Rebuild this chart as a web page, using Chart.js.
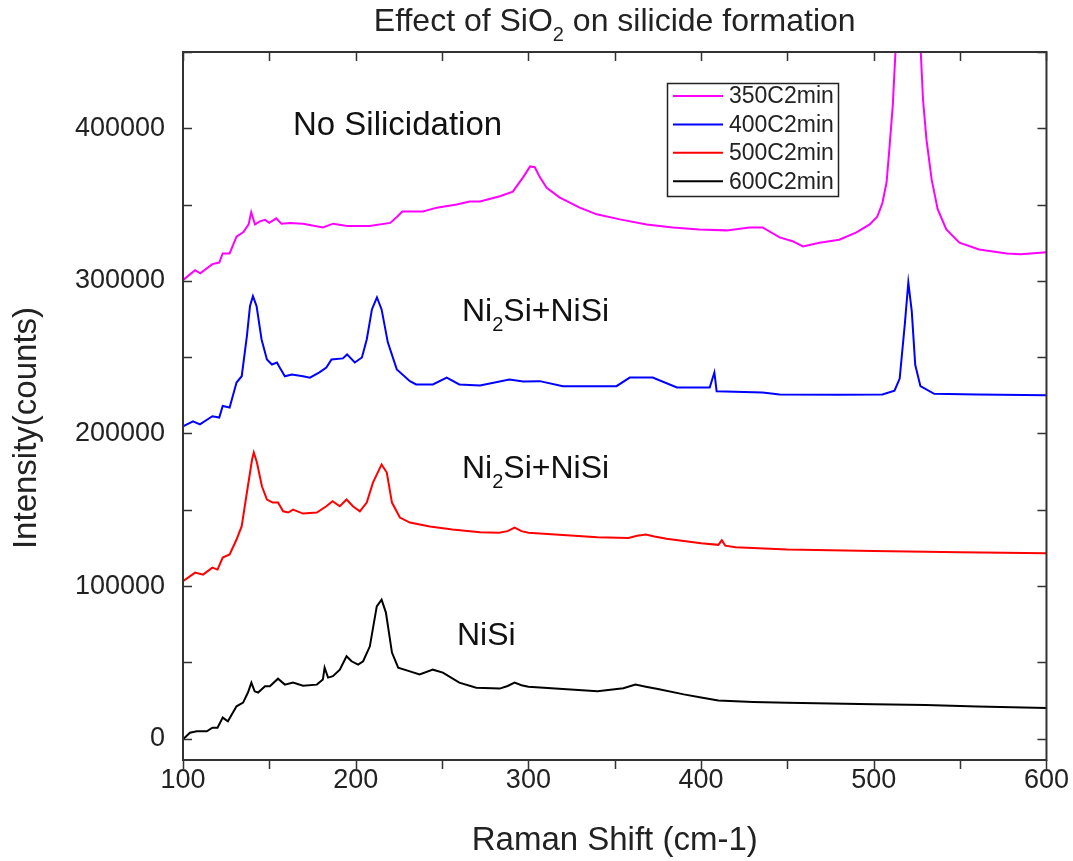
<!DOCTYPE html>
<html>
<head>
<meta charset="utf-8">
<title>Effect of SiO2 on silicide formation</title>
<script src="https://cdn.jsdelivr.net/npm/chart.js@4.4.0/dist/chart.umd.min.js"></script>
<style>
  html, body { margin: 0; padding: 0; background: #fff; }
  #wrap { width: 1073px; height: 861px; }
</style>
</head>
<body>
<div id="wrap"><canvas id="chRaman" width="1073" height="861"></canvas></div>
<script>
// Raman spectra (x = Raman shift cm-1, y = counts)
const shift350 = [100, 107, 110, 117, 121, 123, 127, 131, 135, 138, 139.5, 141.7, 144.5, 147.5, 150, 154, 157, 162, 169.5, 181, 187, 195, 208, 220, 224, 227, 239, 247, 258.5, 266, 272, 283.5, 291, 297, 301, 303.7, 306.6, 310.6, 318, 329.7, 339.6, 353, 368.5, 383.6, 399, 414.8, 428, 435.6, 445.5, 453, 459, 468.6, 480, 490, 497.6, 502, 505, 507.4, 509, 511, 513, 517, 520, 523, 526, 527, 528.5, 530.5, 533.5, 537, 542, 549.6, 561, 577, 585, 600];
const counts350 = [300500, 307000, 305000, 311000, 312000, 318000, 318000, 329000, 332000, 337000, 345000, 337000, 339000, 340000, 338000, 341000, 337500, 338000, 337500, 335000, 337500, 336000, 336000, 338000, 342000, 345500, 345500, 348000, 350000, 352000, 352000, 355500, 358500, 368000, 375000, 374500, 368000, 361000, 354700, 348000, 343600, 340300, 337000, 335000, 333700, 333100, 335000, 335000, 328500, 326000, 322600, 325000, 327000, 331800, 337000, 342000, 351000, 364500, 386000, 415000, 460000, 560000, 620000, 560000, 480000, 455000, 419000, 392700, 366500, 347000, 333700, 325000, 320600, 318000, 317400, 318700];

const shift400 = [100, 105.8, 109.8, 117, 121, 123, 127, 131, 134, 137, 138.8, 140.5, 142.6, 145.5, 148.6, 151.5, 154.4, 156, 159, 163, 169.5, 173.5, 179, 183, 186, 192.6, 195, 199.5, 203.6, 206.4, 209.4, 212.3, 215, 218.6, 223.8, 231.4, 235, 244.7, 252.7, 260, 272, 289, 297, 306.6, 320, 351, 358.7, 372, 386, 405, 407.7, 409, 435.6, 445.5, 480, 505, 512, 515, 518, 520, 522, 524, 527, 535, 560, 600];
const counts400 = [204600, 208000, 206000, 211300, 210400, 218000, 217000, 233400, 237500, 263800, 283500, 290000, 283500, 261600, 248500, 245200, 246500, 243200, 237500, 238700, 237500, 236600, 240000, 243200, 248500, 249200, 251800, 246500, 249800, 261600, 281300, 289200, 281300, 259700, 242000, 234300, 232100, 232100, 236600, 232100, 231500, 235400, 234000, 234300, 231000, 231000, 236600, 236600, 230100, 230100, 240000, 227700, 226900, 225600, 225300, 225500, 228000, 236000, 272000, 299000, 280000, 245000, 231000, 226000, 225500, 225000];

const shift500 = [100, 107, 111.6, 117, 120, 123, 127, 131, 134, 137, 140, 141, 142.8, 145.7, 148.6, 152, 155, 158, 161, 163.7, 169.5, 177.5, 183, 186.6, 190.8, 194.7, 198.4, 202.4, 206.4, 210, 215, 218, 221, 225.6, 231.4, 243, 256, 272, 283, 288, 292, 296, 300, 320, 340, 358, 363, 368, 373, 380, 400, 410, 412, 414, 420, 450, 500, 550, 600];
const counts500 = [103200, 108800, 107500, 112100, 110800, 118700, 120700, 130500, 139200, 161300, 182900, 187500, 181000, 165400, 156700, 154700, 154700, 149000, 148200, 150100, 147500, 148200, 152300, 155600, 152300, 156700, 152300, 149000, 154700, 167800, 179700, 174400, 154700, 144900, 141600, 139000, 137000, 135300, 135000, 136000, 138300, 136000, 135000, 133500, 132000, 131500, 133000, 133800, 132500, 131000, 128000, 127000, 130000, 126500, 125500, 124000, 123000, 122200, 121500];

const shift600 = [100, 104, 108, 113.8, 117, 120, 123, 126, 131, 134.8, 137.6, 139.6, 141.5, 143.5, 147.5, 150.3, 155, 159, 163.7, 169.5, 177.5, 181, 182, 184, 186.8, 190.8, 194.7, 197.6, 201.4, 204.3, 208.2, 212.2, 215, 217.5, 221, 224.6, 231.4, 237, 244.7, 250.5, 260, 269.8, 283.4, 288, 292, 296, 300, 320, 340, 355, 362, 368, 375, 390, 400, 410, 430, 450, 500, 530, 545, 560, 600];
const counts600 = [-500, 3900, 4800, 4800, 7200, 7200, 13800, 11400, 21200, 23600, 30200, 36700, 31000, 30200, 34300, 34300, 39300, 35400, 36700, 34700, 35400, 38700, 46500, 40000, 40900, 45200, 54000, 50700, 48500, 50700, 60500, 86700, 91100, 82600, 56400, 46500, 44100, 42000, 45200, 43300, 36700, 33400, 32800, 34500, 36700, 35000, 34000, 32500, 31000, 33000, 35400, 34000, 32500, 29000, 27000, 25000, 24000, 23500, 22500, 22000, 21500, 21000, 20000];

const seriesLabels = ["350C2min", "400C2min", "500C2min", "600C2min"];
const xTicks = [100, 200, 300, 400, 500, 600];
const yTicks = [0, 100000, 200000, 300000, 400000];

const FONT = "'Liberation Sans', Arial, sans-serif";
const INK = "#222";

function pts(xs, ys) {
  return xs.map(function (x, i) { return { x: x, y: ys[i] }; });
}

function line(label, color, xs, ys) {
  return {
    label: label,
    data: pts(xs, ys),
    borderColor: color,
    backgroundColor: color,
    borderWidth: 2,
    pointRadius: 0,
    tension: 0,
    fill: false,
  };
}

// text with subscripts: parts = [[text, isSub], ...]
function drawParts(ctx, parts, x, y, size, align) {
  var subSize = Math.round(size * 0.62);
  var w = 0;
  parts.forEach(function (p) {
    ctx.font = (p[1] ? subSize : size) + "px " + FONT;
    w += ctx.measureText(p[0]).width;
  });
  var cx = align === "center" ? x - w / 2 : x;
  ctx.textAlign = "left";
  ctx.textBaseline = "alphabetic";
  parts.forEach(function (p) {
    ctx.font = (p[1] ? subSize : size) + "px " + FONT;
    ctx.fillText(p[0], cx, p[1] ? y + size * 0.3 : y);
    cx += ctx.measureText(p[0]).width;
  });
}

const decorations = {
  id: "decorations",
  afterDraw: function (chart) {
    var ctx = chart.ctx;
    var a = chart.chartArea;
    var xs = chart.scales.x, ys = chart.scales.y;
    ctx.save();
    ctx.fillStyle = INK;
    ctx.strokeStyle = "#333";

    // frame
    ctx.lineWidth = 2;
    ctx.strokeRect(a.left, a.top, a.right - a.left, a.bottom - a.top);

    // ticks: major + minor (every 50 / 50000)
    var tl = 9;
    ctx.lineWidth = 1.5;
    ctx.beginPath();
    for (var v = 100; v <= 600; v += 50) {
      var px = Math.round(xs.getPixelForValue(v)) + 0.5;
      ctx.moveTo(px, a.bottom); ctx.lineTo(px, a.bottom + tl);
      ctx.moveTo(px, a.top); ctx.lineTo(px, a.top + tl);
    }
    for (var w = 0; w <= 450000; w += 50000) {
      var py = Math.round(ys.getPixelForValue(w)) + 0.5;
      ctx.moveTo(a.left, py); ctx.lineTo(a.left + tl, py);
      ctx.moveTo(a.right, py); ctx.lineTo(a.right - tl, py);
    }
    ctx.stroke();

    // titles
    drawParts(ctx, [["Effect of SiO", false], ["2", true], [" on silicide formation", false]], (a.left + a.right) / 2, 31, 32, "center");
    ctx.font = "33px " + FONT;
    ctx.textAlign = "center";
    ctx.textBaseline = "alphabetic";
    ctx.fillText("Raman Shift (cm-1)", (a.left + a.right) / 2, 850);
    ctx.save();
    ctx.translate(36, 428);
    ctx.rotate(-Math.PI / 2);
    ctx.font = "33px " + FONT;
    ctx.fillText("Intensity(counts)", 0, 0);
    ctx.restore();

    // phase annotations
    ctx.fillStyle = "#111";
    drawParts(ctx, [["No Silicidation", false]], 293, 135, 33, "left");
    drawParts(ctx, [["Ni", false], ["2", true], ["Si+NiSi", false]], 462, 321, 32, "left");
    drawParts(ctx, [["Ni", false], ["2", true], ["Si+NiSi", false]], 462, 478, 32, "left");
    drawParts(ctx, [["NiSi", false]], 457, 645, 32, "left");

    // legend box
    ctx.fillStyle = "#fff";
    ctx.fillRect(667, 83, 171, 113);
    ctx.strokeStyle = "#222";
    ctx.lineWidth = 1.5;
    ctx.strokeRect(667.5, 83.5, 171, 113);
    ctx.font = "23px " + FONT;
    ctx.textAlign = "left";
    ctx.textBaseline = "middle";
    chart.data.datasets.forEach(function (ds, i) {
      var ly = 96 + i * 28.4;
      ctx.strokeStyle = ds.borderColor;
      ctx.lineWidth = 2;
      ctx.beginPath();
      ctx.moveTo(673, ly); ctx.lineTo(723, ly);
      ctx.stroke();
      ctx.fillStyle = INK;
      ctx.fillText(ds.label, 729, ly + 1);
    });
    ctx.restore();
  },
};

const config = {
  type: "line",
  data: {
    datasets: [
      line(seriesLabels[0], "#ff00ff", shift350, counts350),
      line(seriesLabels[1], "#0000ff", shift400, counts400),
      line(seriesLabels[2], "#ff0000", shift500, counts500),
      line(seriesLabels[3], "#000000", shift600, counts600),
    ],
  },
  options: {
    responsive: false,
    animation: false,
    events: [],
    layout: { padding: { left: 0, right: 26, top: 52, bottom: 0 } },
    plugins: {
      legend: { display: false },
      title: { display: false },
      tooltip: { enabled: false },
    },
    scales: {
      x: {
        type: "linear",
        min: 100,
        max: 600,
        grid: { display: false, drawTicks: false },
        border: { display: false },
        afterBuildTicks: function (s) { s.ticks = xTicks.map(function (v) { return { value: v }; }); },
        afterFit: function (s) { s.height = 101; },
        ticks: { color: INK, padding: 4, maxRotation: 0, font: { family: FONT, size: 27 } },
      },
      y: {
        type: "linear",
        min: -14000,
        max: 450000,
        grid: { display: false, drawTicks: false },
        border: { display: false },
        afterBuildTicks: function (s) { s.ticks = yTicks.map(function (v) { return { value: v }; }); },
        afterFit: function (s) { s.width = 183; },
        ticks: { color: INK, padding: 18, font: { family: FONT, size: 27 },
          callback: function (v) { return String(v); } },
      },
    },
  },
  plugins: [decorations],
};

var ramanChart = new Chart(document.getElementById("chRaman"), config);
</script>
</body>
</html>
